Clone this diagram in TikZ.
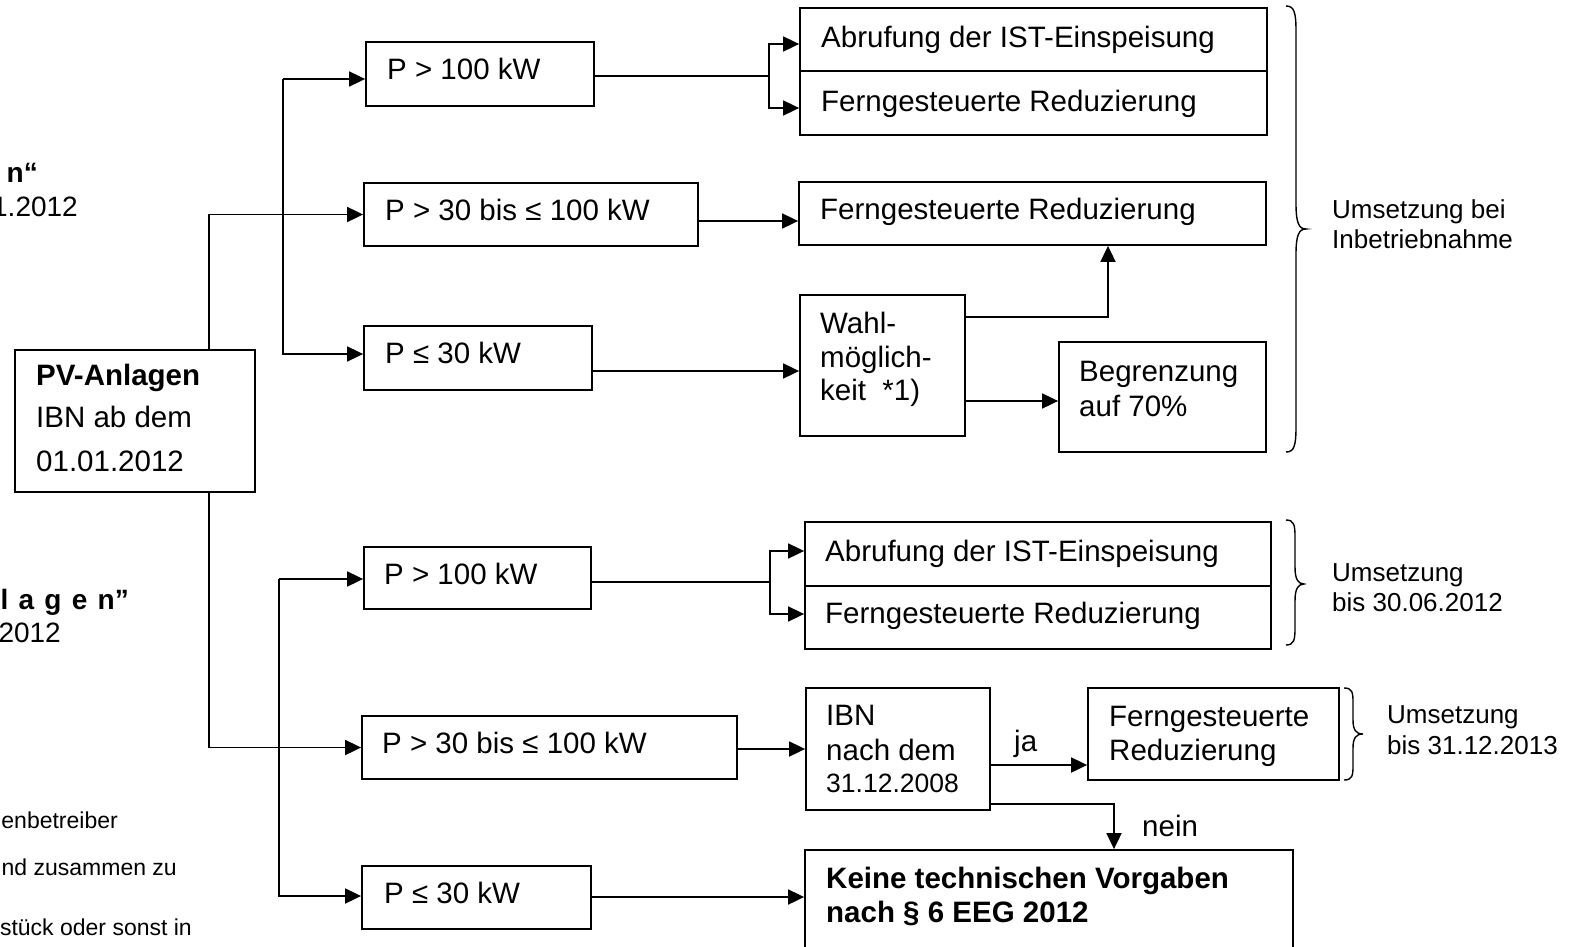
\documentclass[tikz,border=0pt]{standalone}
\usepackage{fontspec}
\setmainfont{Liberation Sans}
\usetikzlibrary{arrows.meta}
\newcommand\fsz[1]{\fontsize{#1}{#1}\selectfont}
\begin{document}
\begin{tikzpicture}[x=1pt,y=-1pt,
  box/.style={draw, line width=1.8pt, inner sep=0pt},
  txt/.style={inner sep=0pt, anchor=base west, font=\fsz{29.5}},
  btxt/.style={inner sep=0pt, anchor=base west, font=\fsz{29.5}\bfseries},
  lab/.style={inner sep=0pt, anchor=base west, font=\fsz{26}},
  frag/.style={inner sep=0pt, anchor=base east, font=\fsz{28}},
  foot/.style={inner sep=0pt, anchor=base east, font=\fsz{23}},
  arr/.style={line width=1.8pt, -{Triangle[length=16pt,width=15pt]}},
  ln/.style={line width=1.8pt},
  brc/.style={line width=1.4pt},
]
\clip (0,0) rectangle (1584,947);
\fill[white] (0,0) rectangle (1584,947);

% ---------- boxes ----------
\node[box, minimum width=240pt, minimum height=142pt] (pv) at (135,421) {};
\node[box, minimum width=228pt, minimum height=64pt] (ta) at (480,74) {};
\node[box, minimum width=334pt, minimum height=63pt] (tb) at (531,214.5) {};
\node[box, minimum width=228pt, minimum height=64pt] (tc) at (478,358) {};
\node[box, minimum width=467pt, minimum height=63pt] (td1) at (1033.5,39.5) {};
\node[box, minimum width=467pt, minimum height=64pt] (td2) at (1033.5,103) {};
\node[box, minimum width=467pt, minimum height=63pt] (te) at (1032.5,213.5) {};
\node[box, minimum width=165pt, minimum height=141pt] (wahl) at (882.5,365.5) {};
\node[box, minimum width=207pt, minimum height=110pt] (begr) at (1162.5,397) {};

\node[box, minimum width=227pt, minimum height=62pt] (ba) at (477.5,578) {};
\node[box, minimum width=466pt, minimum height=64pt] (bd1) at (1038,554) {};
\node[box, minimum width=466pt, minimum height=63pt] (bd2) at (1038,617.5) {};
\node[box, minimum width=375pt, minimum height=63pt] (bb) at (549.5,747.5) {};
\node[box, minimum width=184pt, minimum height=122pt] (ibn) at (898,749) {};
\node[box, minimum width=251pt, minimum height=92pt] (bf) at (1213.5,734) {};
\node[box, minimum width=488pt, minimum height=130pt] (keine) at (1049,915) {};
\node[box, minimum width=229pt, minimum height=63pt] (bc) at (476.5,897.5) {};

% ---------- texts ----------
\node[btxt] (pv1) at (36,385.5) {PV-Anlagen};
\node[txt] (pv2) at (36,427.5) {IBN ab dem};
\node[txt] (pv3) at (36,471.5) {01.01.2012};

\node[txt] (tat) at (387,80) {P > 100 kW};
\node[txt] (tbt) at (385,220.5) {P > 30 bis ≤ 100 kW};
\node[txt] (tct) at (385,363.5) {P ≤ 30 kW};
\node[txt] (td1t) at (821,47.5) {Abrufung der IST-Einspeisung};
\node[txt] (td2t) at (821,111.5) {Ferngesteuerte Reduzierung};
\node[txt] (tet) at (820,219.5) {Ferngesteuerte Reduzierung};
\node[txt] (w1) at (820,333.5) {Wahl-};
\node[txt] (w2) at (820,367.5) {möglich-};
\node[txt] (w3) at (820,400.5) {keit~~*1)};
\node[txt] (bg1) at (1079,381.5) {Begrenzung};
\node[txt] (bg2) at (1079,416.5) {auf 70\%};
\node[lab] (u1) at (1332,218) {Umsetzung bei};
\node[lab] (u2) at (1332,248) {Inbetriebnahme};

\node[txt] (bat) at (384,584.5) {P > 100 kW};
\node[txt] (bd1t) at (825,561.5) {Abrufung der IST-Einspeisung};
\node[txt] (bd2t) at (825,623.5) {Ferngesteuerte Reduzierung};
\node[lab] (u3) at (1332,581) {Umsetzung};
\node[lab] (u4) at (1332,611) {bis 30.06.2012};
\node[txt] (bbt) at (382,753.5) {P > 30 bis ≤ 100 kW};
\node[txt] (ib1) at (826,725.5) {IBN};
\node[txt] (ib2) at (826,760.5) {nach dem};
\node[inner sep=0pt, anchor=base west, font=\fsz{26.5}] (ib3) at (826,792.5) {31.12.2008};
\node[txt] (ja) at (1014,751) {ja};
\node[txt] (bf1) at (1109,726.5) {Ferngesteuerte};
\node[txt] (bf2) at (1109,760.5) {Reduzierung};
\node[lab] (u5) at (1387,723) {Umsetzung};
\node[lab] (u6) at (1387,754) {bis 31.12.2013};
\node[txt] (nein) at (1142,836.5) {nein};
\node[btxt] (k1) at (826,888.5) {Keine technischen Vorgaben};
\node[btxt] (k2) at (826,922.5) {nach § 6 EEG 2012};
\node[txt] (bct) at (384,903.5) {P ≤ 30 kW};

% ---------- fragments at the left edge ----------
\node[frag, font=\fsz{28}\bfseries] (f1) at (38,182) {n“};
\node[frag] (f2) at (78,216) {1.2012};
\node[frag, font=\fsz{28}\bfseries] (f3) at (129,609) {l\hspace{2.5pt} a\hspace{2.5pt} g\hspace{2.5pt} e\hspace{2.5pt} n”};
\node[frag] (f4) at (61,642) {2012};
\node[foot] (n1) at (118,828) {enbetreiber};
\node[foot] (n2) at (177,875) {nd zusammen zu};
\node[foot] (n3) at (192,935) {stück oder sonst in};

% ---------- connectors ----------
\coordinate (j1) at (209,0);
\draw[arr] (pv.north -| j1) |- (tb.west);
\draw[arr] (pv.south -| j1) |- (bb.west);

\coordinate (k1) at (283,79);
\coordinate (k2) at (283,354);
\draw[arr] (k1) -- (k1 -| ta.west);
\draw[arr] (k1) -- (k2) -- (k2 -| tc.west);

\coordinate (k3) at (279,579);
\coordinate (k4) at (279,896);
\draw[arr] (k3) -- (k3 -| ba.west);
\draw[arr] (k3) -- (k4) -- (k4 -| bc.west);

\coordinate (s1) at (769,76);
\coordinate (r1) at (769,44);
\coordinate (r2) at (769,108);
\draw[ln] (ta.east |- s1) -- (s1);
\draw[arr] (s1) -- (r1) -- (r1 -| td1.west);
\draw[arr] (s1) -- (r2) -- (r2 -| td2.west);

\coordinate (m1) at (0,221);
\draw[arr] (tb.east |- m1) -- (te.west |- m1);
\coordinate (m2) at (0,371);
\draw[arr] (tc.east |- m2) -- (wahl.west |- m2);
\coordinate (w1c) at (1108,317);
\draw[arr] (wahl.east |- w1c) -| (w1c |- te.south);
\coordinate (m3) at (0,401);
\draw[arr] (wahl.east |- m3) -- (begr.west |- m3);

\coordinate (s2) at (770,582);
\coordinate (r3) at (770,551);
\coordinate (r4) at (770,614);
\draw[ln] (ba.east |- s2) -- (s2);
\draw[arr] (s2) -- (r3) -- (r3 -| bd1.west);
\draw[arr] (s2) -- (r4) -- (r4 -| bd2.west);

\coordinate (m4) at (0,749);
\draw[arr] (bb.east |- m4) -- (ibn.west |- m4);
\coordinate (m5) at (0,765);
\draw[arr] (ibn.east |- m5) -- (bf.west |- m5);
\coordinate (w2c) at (1114,804);
\draw[arr] (ibn.east |- w2c) -| (w2c |- keine.north);
\coordinate (m6) at (0,897);
\draw[arr] (bc.east |- m6) -- (keine.west |- m6);

% ---------- braces ----------
\draw[brc] (1286,6) .. controls (1294,6) and (1296,12) .. (1296,31) -- (1296,204)
  .. controls (1296,223) and (1299,229) .. (1306,229)
  .. controls (1299,229) and (1296,235) .. (1296,254) -- (1296,427)
  .. controls (1296,446) and (1294,452) .. (1286,452);
\draw[brc] (1286,520) .. controls (1294,520) and (1295,525) .. (1295,537) -- (1295,567)
  .. controls (1295,579) and (1298,584) .. (1304,584)
  .. controls (1298,584) and (1295,589) .. (1295,601) -- (1295,628)
  .. controls (1295,640) and (1294,645) .. (1286,645);
\draw[brc] (1344,688) .. controls (1352,688) and (1353,692) .. (1353,702) -- (1353,720)
  .. controls (1353,730) and (1356,734) .. (1363,734)
  .. controls (1356,734) and (1353,738) .. (1353,748) -- (1353,766)
  .. controls (1353,776) and (1352,780) .. (1344,780);
\end{tikzpicture}
\end{document}
